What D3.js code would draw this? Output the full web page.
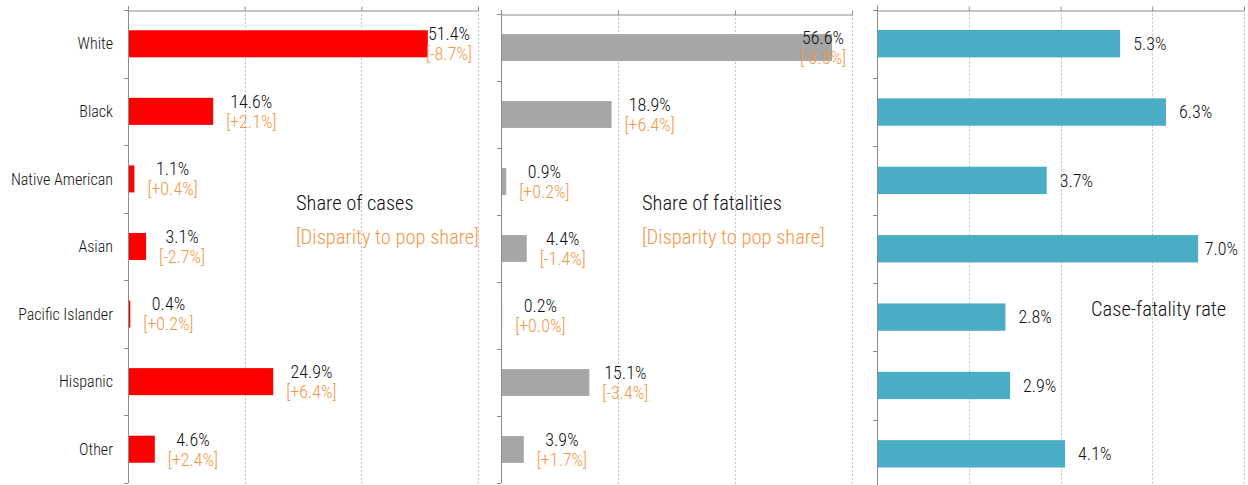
<!DOCTYPE html>
<html>
<head>
<meta charset="utf-8">
<script src="https://cdnjs.cloudflare.com/ajax/libs/d3/7.8.5/d3.min.js"></script>
<style>
  body { margin: 0; background: #fff; }
  svg { display: block; font-family: "Liberation Sans Narrow", "Roboto Condensed", "DejaVu Sans Condensed", sans-serif; font-weight: 300; }
  .grid line { stroke: #c0c0c0; stroke-dasharray: 2,2; }
  .axis path, .axis line { stroke: #8c8c8c; }
</style>
</head>
<body>
<svg width="1248" height="485"></svg>
<script>
// categories and values
var groups = ["White", "Black", "Native American", "Asian", "Pacific Islander", "Hispanic", "Other"];
var casesShare = [51.4, 14.6, 1.1, 3.1, 0.4, 24.9, 4.6];
var casesGap = ["-8.7%", "+2.1%", "+0.4%", "-2.7%", "+0.2%", "+6.4%", "+2.4%"];
var deathsShare = [56.6, 18.9, 0.9, 4.4, 0.2, 15.1, 3.9];
var deathsGap = ["-3.5%", "+6.4%", "+0.2%", "-1.4%", "+0.0%", "-3.4%", "+1.7%"];
var cfr = [5.3, 6.3, 3.7, 7.0, 2.8, 2.9, 4.1];

var orange = "#f79646";
var svg = d3.select("svg");

// one panel = one horizontal bar chart
function drawPanel(opt) {
    var x = d3.scaleLinear().domain([0, opt.max]).range([opt.x0, opt.x1]);
    var y = d3.scaleBand().domain(groups).range([opt.top, opt.bottom])
        .paddingInner(0.6).paddingOuter(0.3);
    var g = svg.append("g");

    // dotted gridlines
    g.append("g").attr("class", "grid")
        .selectAll("line")
        .data(d3.range(opt.step, opt.max + 0.001, opt.step))
        .enter().append("line")
        .attr("x1", function(d) { return Math.round(x(d)) + 0.5; })
        .attr("x2", function(d) { return Math.round(x(d)) + 0.5; })
        .attr("y1", opt.top).attr("y2", 485);

    // top value axis, no labels
    g.append("g").attr("class", "axis")
        .attr("transform", "translate(0," + (Math.round(opt.top) + 0.5) + ")")
        .call(d3.axisTop(x).tickValues(d3.range(0, opt.max + 0.001, opt.step))
            .tickSize(4).tickSizeOuter(0).tickFormat(""));

    // bars
    g.selectAll("rect")
        .data(opt.values)
        .enter().append("rect")
        .attr("x", x(0))
        .attr("y", function(d, i) { return y(groups[i]); })
        .attr("width", function(d) { return x(d) - x(0); })
        .attr("height", y.bandwidth())
        .attr("fill", opt.color);

    // left category axis, ticks between bands
    var left = g.append("g").attr("class", "axis");
    left.append("line")
        .attr("x1", Math.round(x(0)) + 0.5).attr("x2", Math.round(x(0)) + 0.5)
        .attr("y1", opt.top - 4).attr("y2", opt.bottom);
    left.selectAll(".tk")
        .data(d3.range(groups.length + 1))
        .enter().append("line").attr("class", "tk")
        .attr("x1", x(0) - 4).attr("x2", x(0))
        .attr("y1", function(i) { return Math.round(opt.top + i * y.step()) + 0.5; })
        .attr("y2", function(i) { return Math.round(opt.top + i * y.step()) + 0.5; });

    if (opt.showNames) {
        g.selectAll(".cat")
            .data(groups)
            .enter().append("text")
            .attr("x", x(0) - 15)
            .attr("y", function(d) { return y(d) + y.bandwidth() / 2; })
            .attr("dy", "0.35em")
            .attr("text-anchor", "end")
            .style("font-size", "16px")
            .attr("fill", "#111")
            .text(function(d) { return d; });
    }

    // data labels: value + optional bracket line, clamped inside the plot
    opt.values.forEach(function(v, i) {
        var cy = y(groups[i]) + y.bandwidth() / 2;
        var lab = g.append("g");
        var t1 = lab.append("text").attr("text-anchor", "middle")
            .style("font-size", "18px").attr("fill", "#111")
            .text(v.toFixed(1) + "%");
        var w = t1.node().getComputedTextLength();
        var t2 = null;
        if (opt.gaps) {
            t2 = lab.append("text").attr("text-anchor", "middle")
                .style("font-size", "18px").attr("fill", orange)
                .text("[" + opt.gaps[i] + "]");
            w = Math.max(w, t2.node().getComputedTextLength());
        }
        var lx = x(v) + 13;
        if (lx + w > opt.x1 - 6) lx = opt.x1 - 6 - w;
        var cx = lx + w / 2;
        if (t2) {
            t1.attr("x", cx).attr("y", cy - 10).attr("dy", "0.35em");
            t2.attr("x", cx).attr("y", cy + 10).attr("dy", "0.35em");
        } else {
            t1.attr("x", cx).attr("y", cy).attr("dy", "0.35em");
        }
    });

    // panel caption
    var cap = g.append("text")
        .attr("x", opt.capX).attr("y", opt.capY)
        .style("font-size", "20.5px");
    cap.append("tspan").attr("fill", "#111").text(opt.caption);
    if (opt.gaps) {
        cap.append("tspan").attr("x", opt.capX).attr("dy", 34)
            .attr("fill", orange).text("[Disparity to pop share]");
    }
}

drawPanel({ values: casesShare, gaps: casesGap, color: "#ff0000", max: 60, step: 20,
    x0: 128, x1: 478, top: 10, bottom: 483, showNames: true,
    caption: "Share of cases", capX: 296, capY: 210 });

drawPanel({ values: deathsShare, gaps: deathsGap, color: "#a6a6a6", max: 60, step: 20,
    x0: 501, x1: 852, top: 14, bottom: 483,
    caption: "Share of fatalities", capX: 642, capY: 210 });

drawPanel({ values: cfr, color: "#4bacc6", max: 8, step: 2,
    x0: 877, x1: 1244, top: 9.5, bottom: 488,
    caption: "Case-fatality rate", capX: 1091, capY: 316 });
</script>
</body>
</html>
